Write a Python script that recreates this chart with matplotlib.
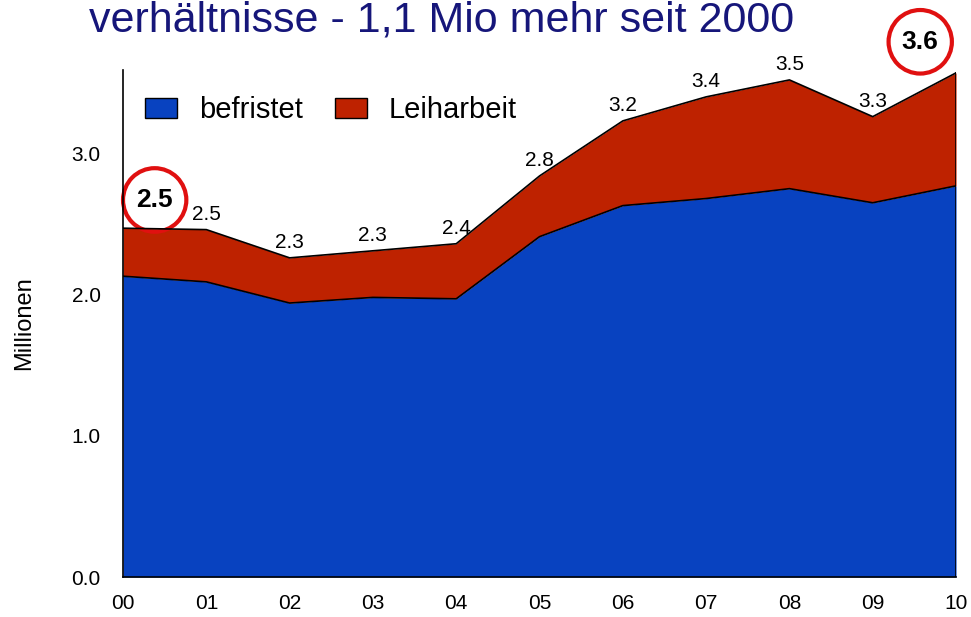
import matplotlib
matplotlib.use("Agg")
import matplotlib.pyplot as plt
from matplotlib.patches import Ellipse

# data (Millionen)
jahre = ["00", "01", "02", "03", "04", "05", "06", "07", "08", "09", "10"]
befristet = [2.13, 2.09, 1.94, 1.98, 1.97, 2.41, 2.63, 2.68, 2.75, 2.65, 2.77]
leiharbeit = [0.34, 0.37, 0.32, 0.33, 0.39, 0.43, 0.60, 0.72, 0.77, 0.61, 0.80]
summen_label = ["2.5", "2.5", "2.3", "2.3", "2.4", "2.8", "3.2", "3.4", "3.5", "3.3", "3.6"]

plt.rcParams['font.family'] = ['Liberation Sans', 'DejaVu Sans']

blau = "#0842c0"
rot = "#be2200"

fig = plt.figure(figsize=(9.71, 6.17), dpi=100)
ax = fig.add_axes([0.1267, 0.0648, 0.8579, 0.8217])

x = list(range(len(jahre)))
summe = [b + l for b, l in zip(befristet, leiharbeit)]

ax.fill_between(x, 0, befristet, color=blau, lw=0)
ax.fill_between(x, befristet, summe, color=rot, lw=0)
ax.plot(x, befristet, color="black", lw=1.2)
ax.plot(x, summe, color="black", lw=1.2)
ax.plot([x[-1], x[-1]], [0, summe[-1]], color="black", lw=1.2)

ax.set_xlim(0, 10)
ax.set_ylim(0, 3.59)
ax.set_xticks(x)
ax.set_xticklabels(jahre)
ax.set_yticks([0, 1, 2, 3])
ax.set_yticklabels(["0.0", "1.0", "2.0", "3.0"])
ax.tick_params(axis="x", length=0, labelsize=15, pad=12)
ax.tick_params(axis="y", length=0, labelsize=15, pad=16)
for s in ["top", "right"]:
    ax.spines[s].set_visible(False)
ax.spines["left"].set_linewidth(1.2)
ax.spines["bottom"].set_linewidth(1.2)
ax.set_ylabel("Millionen", fontsize=17, labelpad=26)

# value labels
for i in range(1, len(x) - 1):
    ax.annotate(summen_label[i], (x[i], summe[i]), xytext=(0, 4), textcoords="offset points",
                ha="center", va="bottom", fontsize=15)

# circled labels (first and last year)
for i, (cx, cy) in [(0, (0.38, 2.67)), (10, (9.57, 3.79))]:
    ax.text(cx, cy, summen_label[i], ha="center", va="center", fontsize=19,
            fontweight="bold", clip_on=False)
    ax.add_patch(Ellipse((cx, cy), 0.76, 0.45, fill=False, ec="#e01010", lw=3, clip_on=False))

# legend
ax.legend(handles=[plt.Rectangle((0, 0), 1, 1, fc=blau, ec="black"),
                   plt.Rectangle((0, 0), 1, 1, fc=rot, ec="black")],
          labels=["befristet", "Leiharbeit"], loc="upper left", bbox_to_anchor=(-0.005, 1.0),
          ncol=2, frameon=False, handlelength=1.1, handleheight=0.7,
          columnspacing=1.1, handletextpad=0.75, prop={'size': 21})

fig.text(0.455, 0.967, "verhältnisse - 1,1 Mio mehr seit 2000", ha="center", va="center",
         fontsize=31, color="#16167a")

fig.savefig("out.png", dpi=100)
